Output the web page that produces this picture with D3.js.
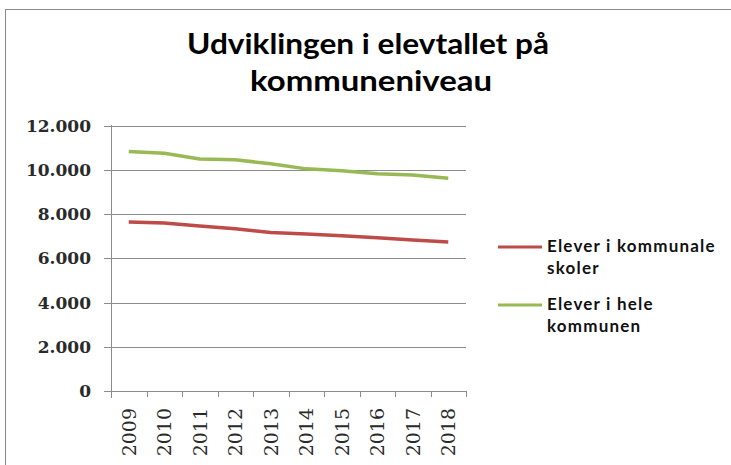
<!DOCTYPE html>
<html>
<head>
<meta charset="utf-8">
<script src="https://cdn.jsdelivr.net/npm/d3@7"></script>
<style>
  body { margin: 0; background: #fff; }
  svg { display: block; }
</style>
</head>
<body>
<svg id="chart"></svg>
<script>
// data
var years = ["2009", "2010", "2011", "2012", "2013", "2014", "2015", "2016", "2017", "2018"];
var kommunale = [7640, 7590, 7460, 7330, 7160, 7100, 7020, 6930, 6830, 6740];
var heleKommunen = [10820, 10750, 10490, 10450, 10270, 10040, 9950, 9820, 9760, 9620];
var yTicks = [0, 2000, 4000, 6000, 8000, 10000, 12000];
var seriesNames = [["Elever i kommunale", "skoler"], ["Elever i hele", "kommunen"]];
var seriesColors = ["#be4b48", "#98b954"];

var width = 731;
var height = 465;
var svg = d3.select("#chart")
            .attr("width", width)
            .attr("height", height);

// chart border (only top and left edge are inside the picture)
svg.append("rect")
  .attr("x", 5.5)
  .attr("y", 9.5)
  .attr("width", 740)
  .attr("height", 470)
  .attr("fill", "none")
  .attr("stroke", "#8a8a8a");

// title
var title = svg.append("text")
  .attr("text-anchor", "middle")
  .attr("font-family", "Lato, sans-serif")
  .attr("font-weight", "bold")
  .attr("font-size", 29)
  .attr("fill", "#000");
title.append("tspan").attr("x", 368).attr("y", 54)
  .attr("textLength", 362).attr("lengthAdjust", "spacingAndGlyphs")
  .text("Udviklingen i elevtallet på");
title.append("tspan").attr("x", 371).attr("y", 91)
  .attr("textLength", 242).attr("lengthAdjust", "spacingAndGlyphs")
  .text("kommuneniveau");

var xScale = d3.scaleBand()
               .domain(years)
               .range([111, 466]);

var yScale = d3.scaleLinear()
               .domain([0, 12000])
               .range([391, 125.5]);

// gridlines
svg.append("g")
  .selectAll("line")
  .data(yTicks)
  .enter()
  .append("line")
  .attr("x1", 104)
  .attr("x2", 466)
  .attr("y1", function(d) { return Math.round(yScale(d)) + 0.5; })
  .attr("y2", function(d) { return Math.round(yScale(d)) + 0.5; })
  .attr("stroke", "#8c8c8c")
  .attr("stroke-width", 1);

// y axis line
svg.append("line")
  .attr("x1", 111.5).attr("x2", 111.5)
  .attr("y1", 125).attr("y2", 398)
  .attr("stroke", "#8c8c8c");

// y tick labels
svg.append("g")
  .selectAll("text")
  .data(yTicks)
  .enter()
  .append("text")
  .attr("x", 91)
  .attr("y", function(d) { return yScale(d); })
  .attr("dy", "0.36em")
  .attr("text-anchor", "end")
  .attr("font-family", "'DejaVu Serif', serif")
  .attr("font-weight", "bold")
  .attr("font-size", 17)
  .attr("fill", "#2a2a2a")
  .text(function(d) { return d === 0 ? "0" : d3.format(",")(d).replace(/,/g, "."); });

// x tick marks at category boundaries
var bounds = years.map(function(d) { return xScale(d); }).concat([xScale.range()[1]]);
svg.append("g")
  .selectAll("line")
  .data(bounds)
  .enter()
  .append("line")
  .attr("x1", function(d) { return Math.round(d) + 0.5; })
  .attr("x2", function(d) { return Math.round(d) + 0.5; })
  .attr("y1", 391)
  .attr("y2", 397)
  .attr("stroke", "#8c8c8c");

// x labels
svg.append("g")
  .selectAll("text")
  .data(years)
  .enter()
  .append("text")
  .attr("transform", function(d) {
    return "translate(" + (xScale(d) + xScale.bandwidth() / 2) + ",408) rotate(-90)";
  })
  .attr("dy", "0.36em")
  .attr("text-anchor", "end")
  .attr("font-family", "'DejaVu Serif', serif")
  .attr("font-size", 19)
  .attr("fill", "#2a2a2a")
  .text(function(d) { return d; });

// lines
var line = d3.line()
  .x(function(d, i) { return xScale(years[i]) + xScale.bandwidth() / 2; })
  .y(function(d) { return yScale(d); });

[kommunale, heleKommunen].forEach(function(values, i) {
  svg.append("path")
    .datum(values)
    .attr("d", line)
    .attr("fill", "none")
    .attr("stroke", seriesColors[i])
    .attr("stroke-width", 3.5)
    .attr("stroke-linejoin", "round");
});

// legend
var legend = svg.append("g")
  .selectAll("g")
  .data(seriesNames)
  .enter()
  .append("g")
  .attr("transform", function(d, i) { return "translate(498," + (247 + i * 58) + ")"; });

legend.append("line")
  .attr("x1", 0).attr("x2", 44)
  .attr("stroke", function(d, i) { return seriesColors[i]; })
  .attr("stroke-width", 3);

var legendText = legend.append("text")
  .attr("font-family", "Lato, sans-serif")
  .attr("font-weight", "bold")
  .attr("font-size", 17)
  .attr("letter-spacing", 1.2)
  .attr("fill", "#111");
legendText.append("tspan").attr("x", 49).attr("y", 5).text(function(d) { return d[0]; });
legendText.append("tspan").attr("x", 49).attr("y", 27).text(function(d) { return d[1]; });
</script>
</body>
</html>
